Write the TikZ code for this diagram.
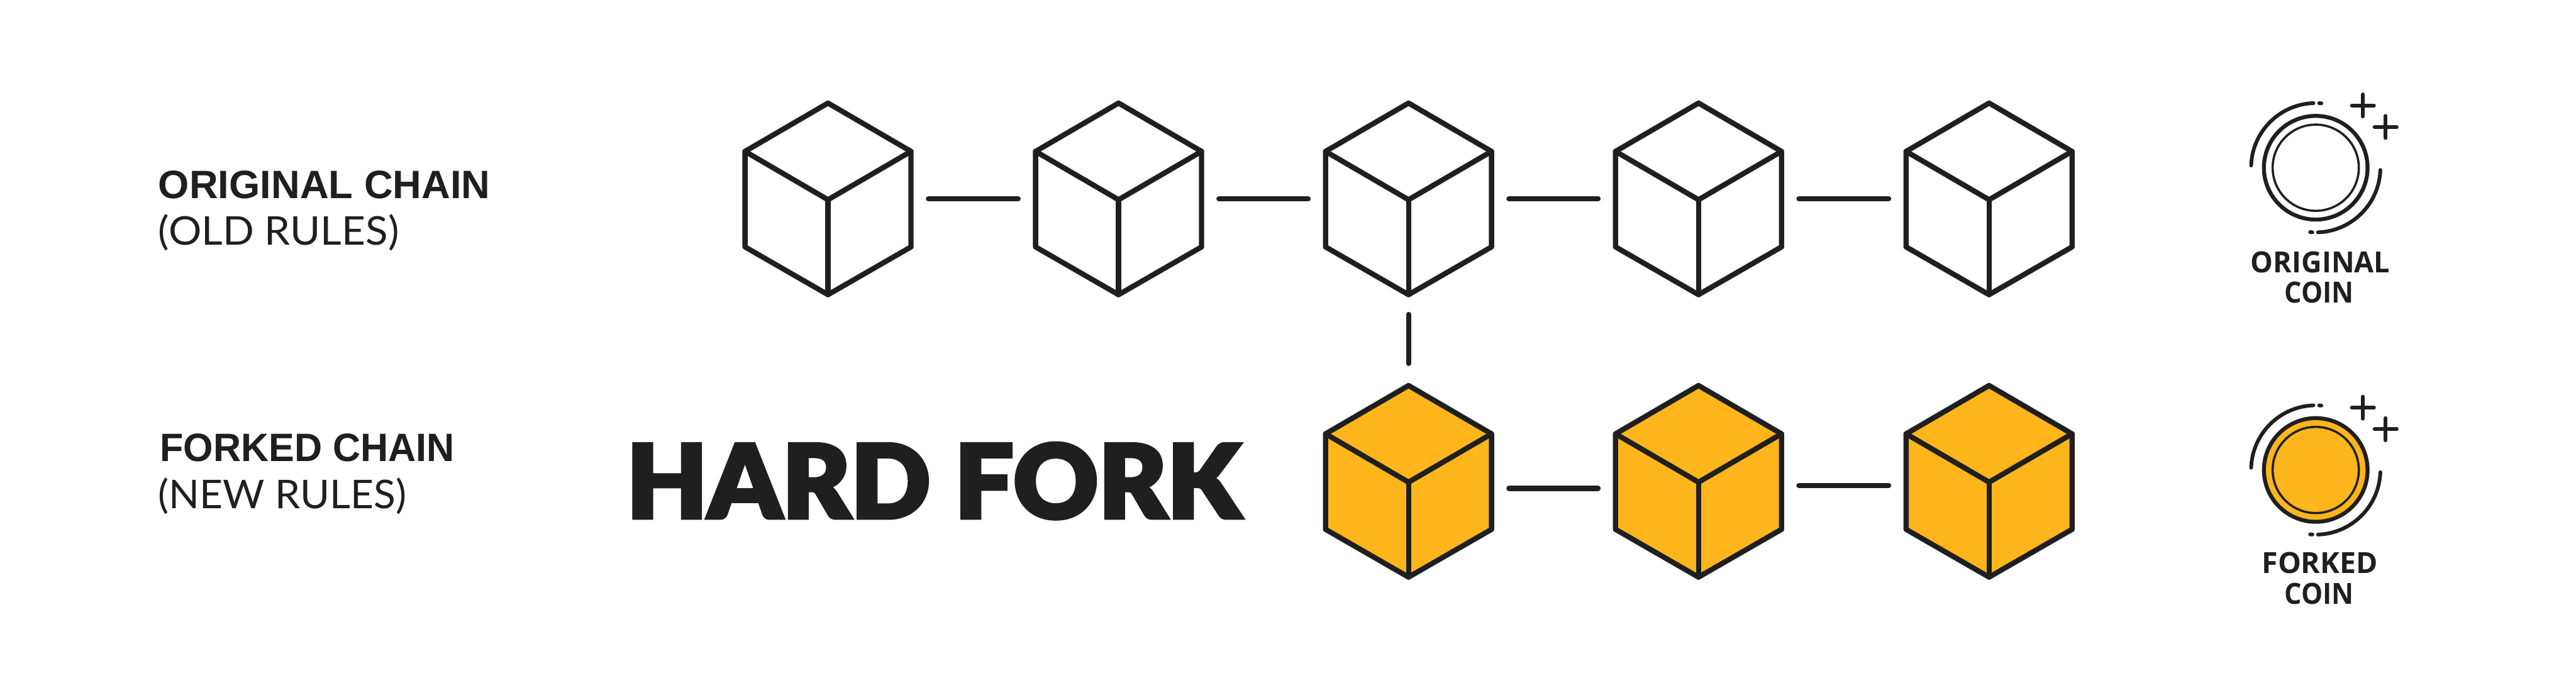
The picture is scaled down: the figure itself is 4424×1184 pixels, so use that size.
\documentclass[tikz,border=0pt]{standalone}
\usepackage{fontspec}
\usepackage{graphicx}
\setmainfont{Liberation Sans}
\newfontfamily\coinfont{Open Sans}
\newfontfamily\heavyfont{Lato}[UprightFont=* Black,FakeBold=3]
\newfontfamily\lightfont{Lato}
\definecolor{ink}{HTML}{1F1F1F}
\definecolor{amber}{HTML}{FFB51C}
\newcommand{\fitw}[2]{\resizebox{\dimexpr#1pt/2\relax}{\height}{#2}}
\tikzset{
  cubeanchor/.style={rectangle,inner sep=0pt,outer sep=0pt,minimum width=142.5pt,minimum height=164.5pt},
  cubeline/.style={draw=ink,line width=4.5pt,line join=round,line cap=round},
  link/.style={draw=ink,line width=4.5pt,line cap=round,shorten >=15pt,shorten <=15pt},
  vlink/.style={draw=ink,line width=4.5pt,line cap=round,shorten >=19pt,shorten <=17pt},
  ring/.style={circle,draw=ink,inner sep=0pt,outer sep=0pt},
  swirl/.style={draw=ink,line width=3.2pt,line cap=round},
  label/.style={inner sep=0pt,outer sep=0pt,anchor=base west,text=ink},
  coinlabel/.style={inner sep=0pt,outer sep=0pt,anchor=base,text=ink},
}
% name, x, y(negative), fill
\newcommand{\cube}[4]{%
  \node[cubeanchor] (#1) at (#2,#3) {};
  \path[fill=#4] (#1.center) ++(0,82.25pt) -- ++(71.25pt,-41.5pt) -- ++(0,-82pt) -- ++(-71.25pt,-41pt) -- ++(-71.25pt,41pt) -- ++(0,82pt) -- cycle;
  \draw[cubeline] (#1.center) ++(0,82.25pt) -- ++(71.25pt,-41.5pt) -- ++(0,-82pt) -- ++(-71.25pt,-41pt) -- ++(-71.25pt,41pt) -- ++(0,82pt) -- cycle;
  \draw[cubeline] (#1.center) ++(-71.25pt,40.75pt) -- ++(71.25pt,-41.5pt) -- ++(71.25pt,41.5pt);
  \draw[cubeline] (#1.center) ++(0,-0.75pt) -- ++(0,-81.5pt);
}
% name, x, y(negative), fill
\newcommand{\coin}[4]{%
  \node[ring,line width=3.4pt,minimum size=89pt,fill=#4] (#1) at (#2,#3) {};
  \node[ring,line width=1.9pt,minimum size=74pt,fill=#4] (#1i) at (#2,#3) {};
  \draw[swirl] (#1.center) ++(178:55.5pt) arc[start angle=178,end angle=92,radius=55.5pt];
  \draw[swirl] (#1.center) ++(87:55.5pt) arc[start angle=87,end angle=85,radius=55.5pt];
  \draw[swirl] (#1.center) ++(-2:55.5pt) arc[start angle=-2,end angle=-88,radius=55.5pt];
  \draw[swirl] (#1.center) ++(-93:55.5pt) arc[start angle=-93,end angle=-95,radius=55.5pt];
  \draw[swirl] (#1.center) ++(40.5pt,53.5pt) ++(-9.5pt,0) -- ++(19pt,0) ++(-9.5pt,9.5pt) -- ++(0,-19pt);
  \draw[swirl] (#1.center) ++(60pt,35pt) ++(-9.5pt,0) -- ++(19pt,0) ++(-9.5pt,9.5pt) -- ++(0,-19pt);
}
\begin{document}
\begin{tikzpicture}[x=0.5pt,y=0.5pt]
\useasboundingbox[fill=white] (0,0) rectangle (4424,-1184);

\node[label,font=\bfseries\fontsize{34pt}{34pt}\selectfont] (t1) at (272,-341) {\fitw{570}{ORIGINAL CHAIN}};
\node[label,font=\lightfont\fontsize{34pt}{34pt}\selectfont] (t2) at (272,-421) {\fitw{413}{(OLD RULES)}};
\node[label,font=\bfseries\fontsize{34pt}{34pt}\selectfont] (t3) at (275,-792) {\fitw{506}{FORKED CHAIN}};
\node[label,font=\lightfont\fontsize{34pt}{34pt}\selectfont] (t4) at (272,-873) {\fitw{426}{(NEW RULES)}};
\node[label,font=\heavyfont\fontsize{88pt}{88pt}\selectfont] (hf) at (1076,-890) {\fitw{1055}{HARD FORK}};

\cube{a1}{1422}{-341.5}{white}
\cube{a2}{1921}{-341.5}{white}
\cube{a3}{2419}{-341.5}{white}
\cube{a4}{2917}{-341.5}{white}
\cube{a5}{3416}{-341.5}{white}
\cube{b3}{2419}{-826.5}{amber}
\cube{b4}{2917}{-826.5}{amber}
\cube{b5}{3416}{-826.5}{amber}

\draw[link] (a1.east) -- (a2.west);
\draw[link] (a2.east) -- (a3.west);
\draw[link] (a3.east) -- (a4.west);
\draw[link] (a4.east) -- (a5.west);
\draw[vlink] (a3.south) -- (b3.north);
\draw[link] ([yshift=-6pt]b3.east) -- ([yshift=-6pt]b4.west);
\draw[link] ([yshift=-3.5pt]b4.east) -- ([yshift=-3.5pt]b5.west);

\coin{c1}{3977}{-288}{white}
\coin{c2}{3977}{-807}{amber}

\node[coinlabel,font=\coinfont\bfseries\fontsize{25pt}{25pt}\selectfont] (o1) at (3985,-468) {\fitw{239}{ORIGINAL}};
\node[coinlabel,font=\coinfont\bfseries\fontsize{25pt}{25pt}\selectfont] (o2) at (3983,-520) {\fitw{119}{COIN}};
\node[coinlabel,font=\coinfont\bfseries\fontsize{25pt}{25pt}\selectfont] (f1) at (3984,-985) {\fitw{199}{FORKED}};
\node[coinlabel,font=\coinfont\bfseries\fontsize{25pt}{25pt}\selectfont] (f2) at (3983,-1037) {\fitw{119}{COIN}};
\end{tikzpicture}
\end{document}
